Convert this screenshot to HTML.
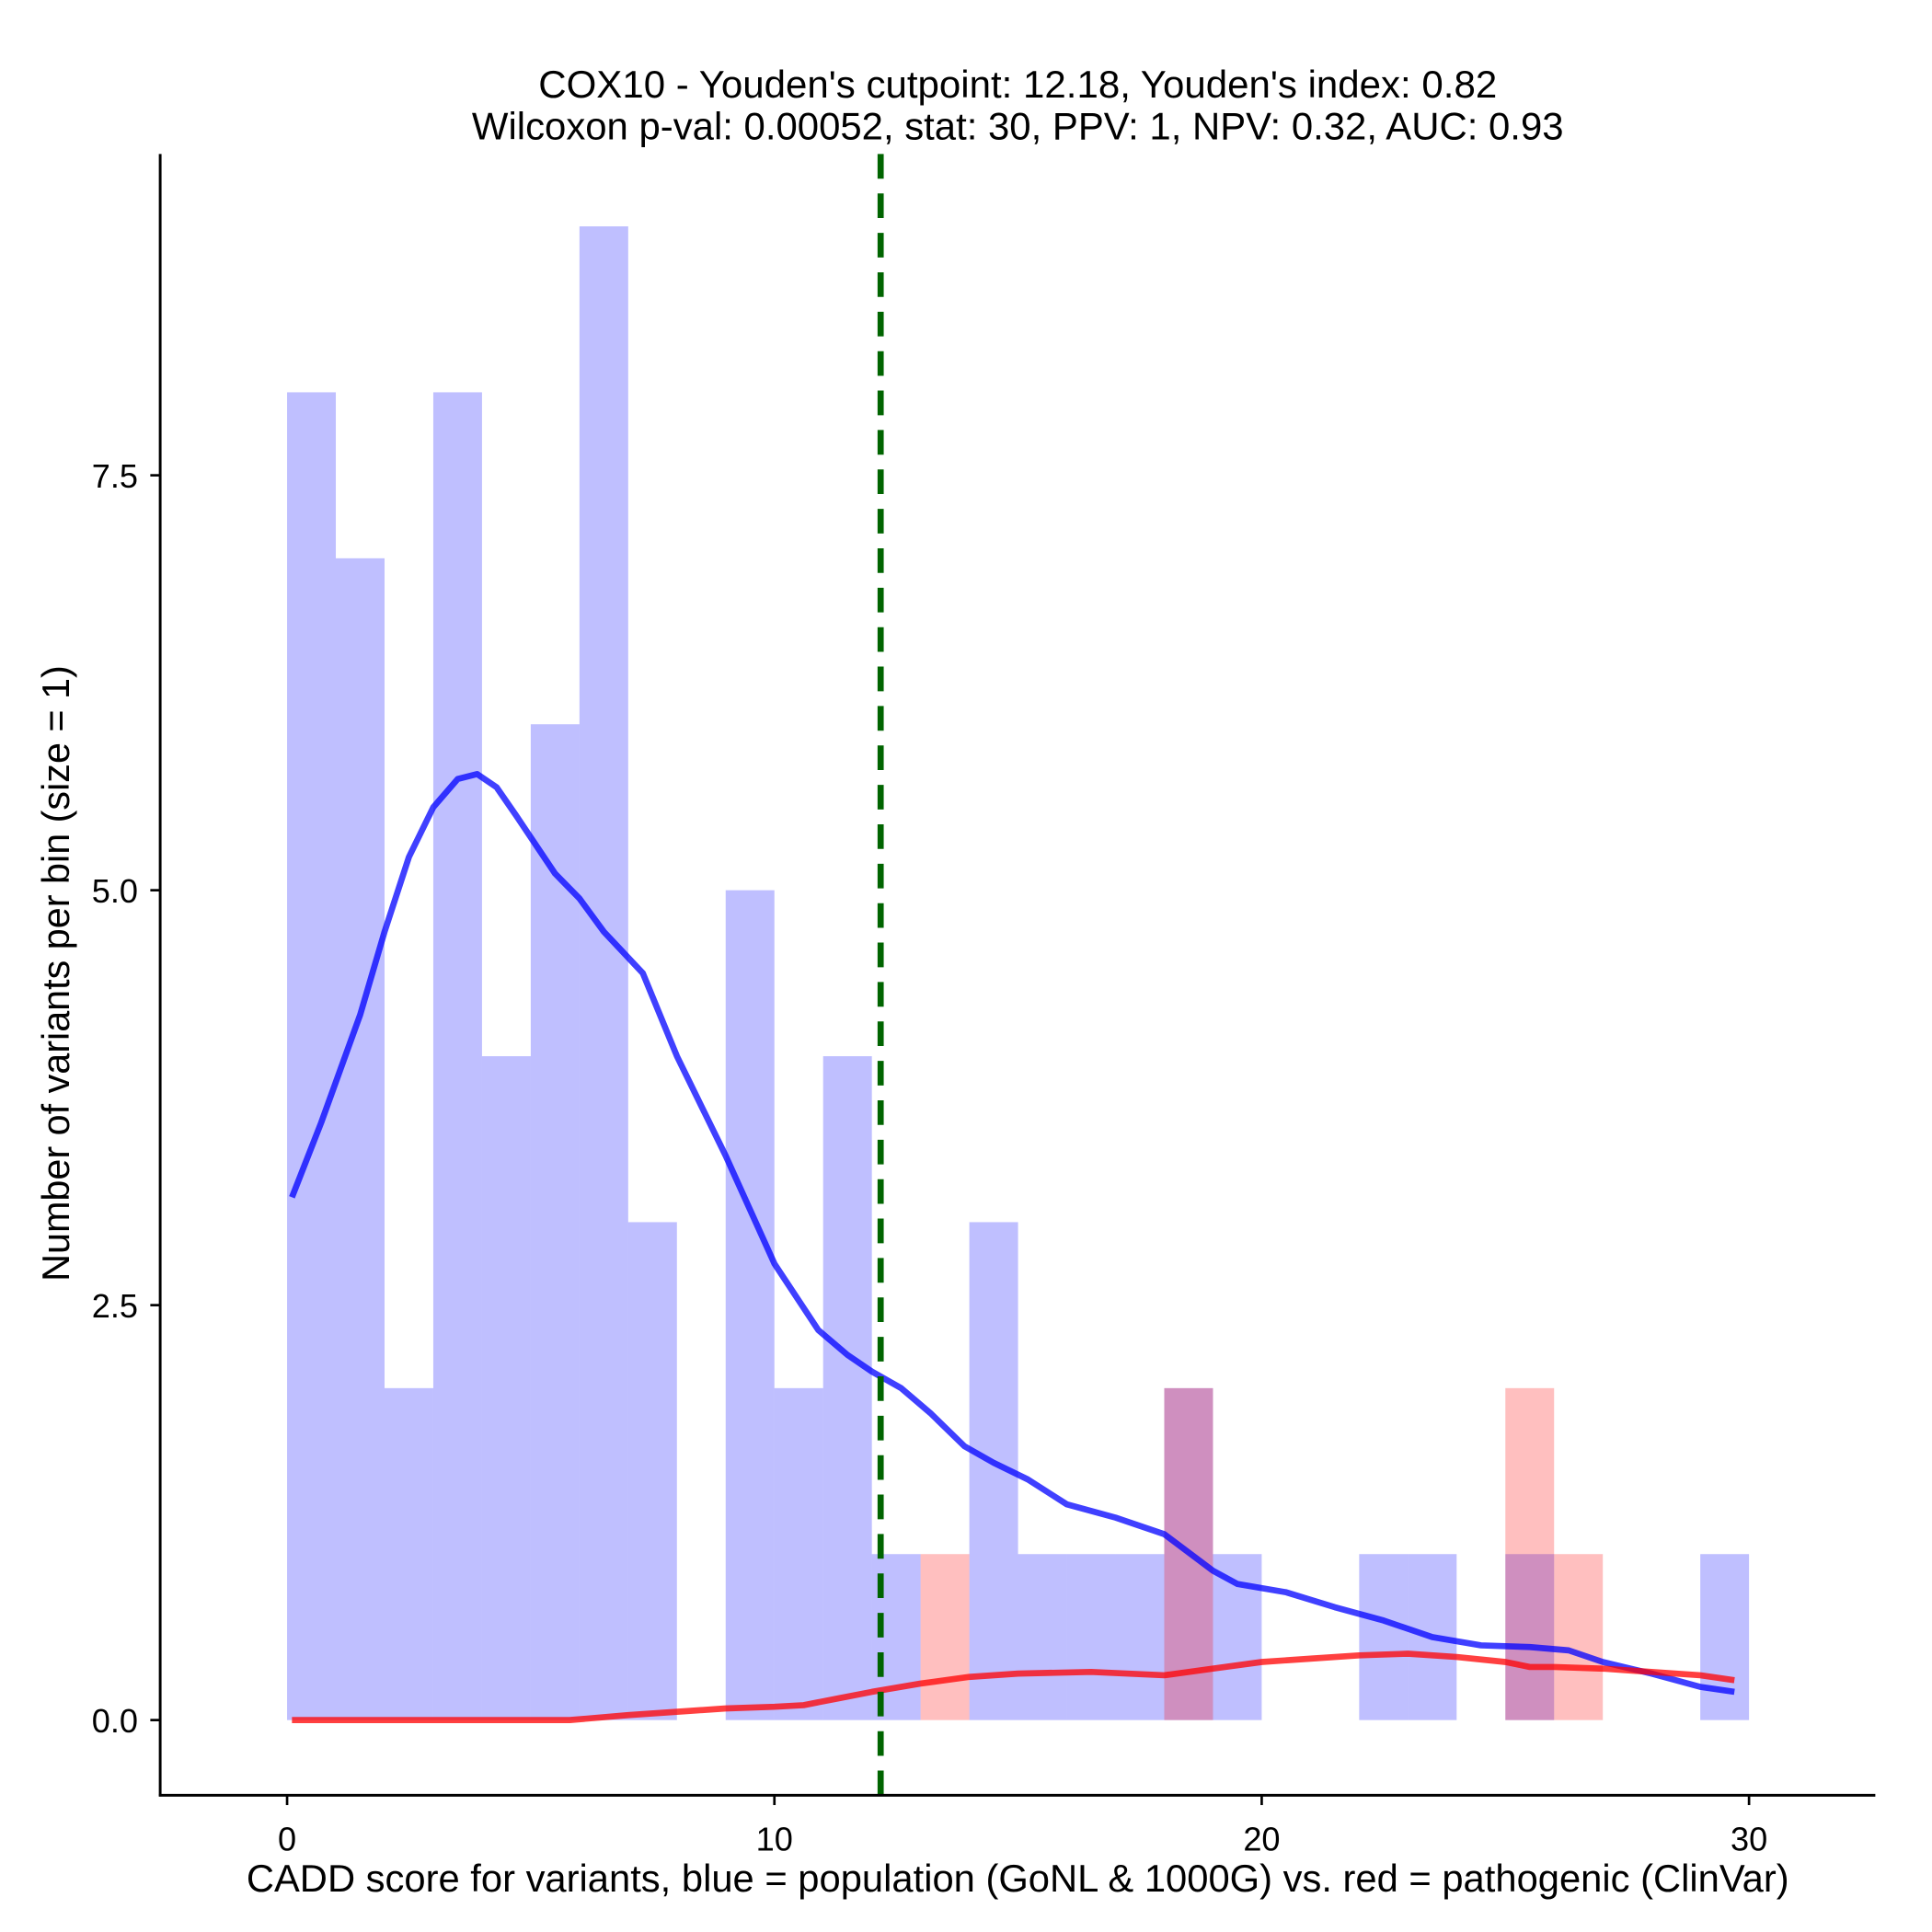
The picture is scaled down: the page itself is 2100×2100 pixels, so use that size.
<!DOCTYPE html>
<html><head><meta charset="utf-8"><style>
html,body{margin:0;padding:0;background:#fff;}
svg{display:block;font-family:"Liberation Sans",Arial,sans-serif;}
</style></head><body>
<svg id="chart" width="2100" height="2100" viewBox="0 0 1568 1568" xmlns="http://www.w3.org/2000/svg">
<text x="826" y="79" text-anchor="middle" font-size="31" textLength="778" lengthAdjust="spacingAndGlyphs">COX10 - Youden's cutpoint: 12.18, Youden's index: 0.82</text>
<text x="826" y="113" text-anchor="middle" font-size="31" textLength="886" lengthAdjust="spacingAndGlyphs">Wilcoxon p-val: 0.00052, stat: 30, PPV: 1, NPV: 0.32, AUC: 0.93</text>
<g id="bars"></g>
<g id="lines"></g>
<g id="axes"></g>
<text x="826" y="1535" text-anchor="middle" font-size="31" textLength="1252" lengthAdjust="spacingAndGlyphs">CADD score for variants, blue = population (GoNL &amp; 1000G) vs. red = pathogenic (ClinVar)</text>
<text transform="translate(56,790) rotate(-90)" text-anchor="middle" font-size="31" textLength="500" lengthAdjust="spacingAndGlyphs">Number of variants per bin (size = 1)</text>
</svg>
<script>
const binStarts = [0,1,2,3,4,5,6,7,8,9,10,11,12,13,14,15,16,17,18,19,20,21,22,23,24,25,26,27,28,29];
const blueCounts = [8,7,2,8,4,6,9,3,0,5,2,4,1,0,3,1,1,1,2,1,0,0,1,1,0,1,0,0,0,1];
const redCounts  = [0,0,0,0,0,0,0,0,0,0,0,0,0,1,0,0,0,0,2,0,0,0,0,0,0,2,1,0,0,0];
const blueDensX = [0.1,0.7,1.5,2.0,2.5,3.0,3.5,3.9,4.3,4.7,5.5,6.0,6.5,7.3,8.0,9.0,10.0,10.9,11.5,12.0,12.6,13.2,13.9,14.5,15.2,16.0,17.0,18.0,19.0,19.5,20.5,21.5,22.5,23.5,24.5,25.5,26.3,27.0,28.0,29.0,29.7];
const blueDensY = [3.15,3.6,4.25,4.75,5.2,5.5,5.67,5.7,5.62,5.45,5.1,4.95,4.75,4.5,4.0,3.4,2.75,2.35,2.2,2.1,2.0,1.85,1.65,1.55,1.45,1.3,1.22,1.12,0.9,0.82,0.77,0.68,0.6,0.5,0.45,0.44,0.42,0.35,0.28,0.2,0.17];
const redDensX = [0.1,2,4,5.8,7,8,9,10,10.6,11.3,12,13,14,15,16.5,18,19,20,21,22,23,24,25,25.5,26,27,28,29,29.7];
const redDensY = [0,0,0,0,0.03,0.05,0.07,0.08,0.09,0.13,0.17,0.22,0.26,0.28,0.29,0.27,0.31,0.35,0.37,0.39,0.4,0.38,0.35,0.32,0.32,0.31,0.29,0.27,0.24];
const xTicks = [0,10,20,30];
const yTicks = [0,2.5,5,7.5];
const yTickLabels = ["0.0","2.5","5.0","7.5"];
const cutpoint = 12.18;

const NS="http://www.w3.org/2000/svg";
const xs = v => 233 + v*39.55;
const ys = v => 1396 - v*134.7;
function mk(tag, parent){const e=document.createElementNS(NS,tag);parent.appendChild(e);return e;}
const bars=document.getElementById('bars'), lines=document.getElementById('lines'), axes=document.getElementById('axes');

binStarts.forEach((b,i)=>{
  if(blueCounts[i]>0){
    const r=mk('rect',bars);
    
    
    r.setAttribute('x',xs(b));r.setAttribute('width',xs(b+1)-xs(b));
    r.setAttribute('y',ys(blueCounts[i]));r.setAttribute('height',ys(0)-ys(blueCounts[i]));
    r.setAttribute('fill','rgba(0,0,255,0.25)');
  }
});
binStarts.forEach((b,i)=>{
  if(redCounts[i]>0){
    const r=mk('rect',bars);
    
    
    r.setAttribute('x',xs(b));r.setAttribute('width',xs(b+1)-xs(b));
    r.setAttribute('y',ys(redCounts[i]));r.setAttribute('height',ys(0)-ys(redCounts[i]));
    r.setAttribute('fill','rgba(255,0,0,0.25)');
  }
});
function curve(X,Y,color,name){
  const p=mk('polyline',lines);
  
  
  p.setAttribute('points',X.map((x,i)=>xs(x)+','+ys(Y[i])).join(' '));
  p.setAttribute('fill','none');p.setAttribute('stroke',color);p.setAttribute('stroke-width','5');
  p.setAttribute('stroke-linejoin','round');
}
curve(blueDensX,blueDensY,'rgba(0,0,255,0.75)','blue-density-line');
curve(redDensX,redDensY,'rgba(255,0,0,0.75)','red-density-line');

const cut=mk('line',lines);


cut.setAttribute('x1',xs(cutpoint));cut.setAttribute('x2',xs(cutpoint));
cut.setAttribute('y1',125);cut.setAttribute('y2',1457);
cut.setAttribute('stroke','#006400');cut.setAttribute('stroke-width','5');cut.setAttribute('stroke-dasharray','20,12');

const ya=mk('line',axes);


ya.setAttribute('x1',130);ya.setAttribute('x2',130);ya.setAttribute('y1',125);ya.setAttribute('y2',1458);
ya.setAttribute('stroke','#000');ya.setAttribute('stroke-width','2.2');
const xa=mk('line',axes);


xa.setAttribute('x1',129);xa.setAttribute('x2',1522);xa.setAttribute('y1',1457);xa.setAttribute('y2',1457);
xa.setAttribute('stroke','#000');xa.setAttribute('stroke-width','2.2');

xTicks.forEach(t=>{
  const l=mk('line',axes);
  
  
  l.setAttribute('x1',xs(t));l.setAttribute('x2',xs(t));l.setAttribute('y1',1457);l.setAttribute('y2',1465);
  l.setAttribute('stroke','#000');l.setAttribute('stroke-width','2');
  const tx=mk('text',axes);
  
  
  tx.setAttribute('x',xs(t));tx.setAttribute('y',1502);tx.setAttribute('text-anchor','middle');tx.setAttribute('font-size','27');
  tx.textContent=String(t);
});
yTicks.forEach((t,i)=>{
  const l=mk('line',axes);
  
  
  l.setAttribute('x1',122);l.setAttribute('x2',130);l.setAttribute('y1',ys(t));l.setAttribute('y2',ys(t));
  l.setAttribute('stroke','#000');l.setAttribute('stroke-width','2');
  const tx=mk('text',axes);
  
  
  tx.setAttribute('x',112);tx.setAttribute('y',ys(t)+10);tx.setAttribute('text-anchor','end');tx.setAttribute('font-size','27');
  tx.textContent=yTickLabels[i];
});
</script>
</body></html>
